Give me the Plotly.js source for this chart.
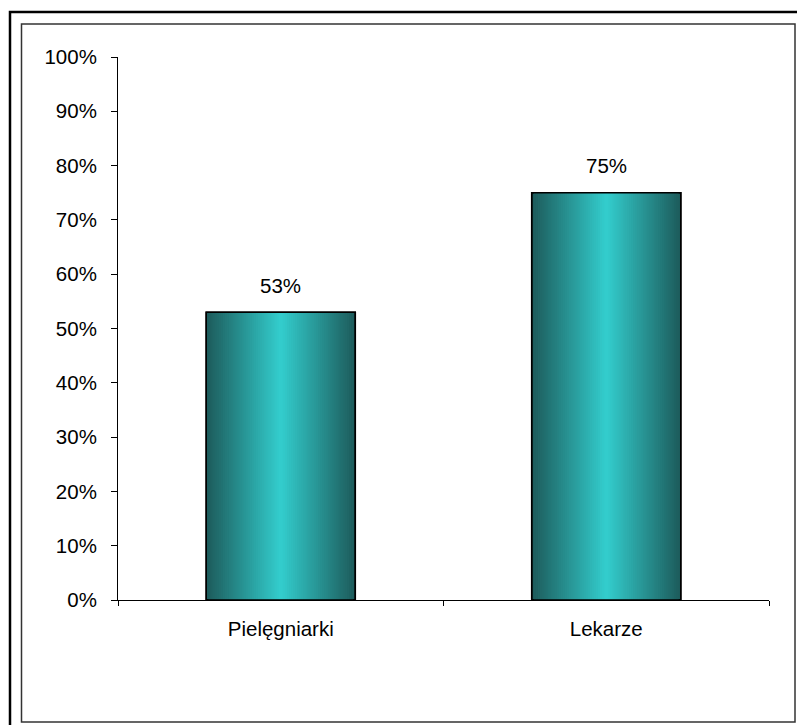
<!DOCTYPE html>
<html>
<head>
<meta charset="utf-8">
<script src="https://cdn.plot.ly/plotly-3.0.1.min.js"></script>
<style>
  html, body { margin: 0; padding: 0; background: #ffffff; }
  #chart { width: 797px; height: 725px; }
</style>
</head>
<body>
<div id="chart"></div>
<script>
// ---- data ----
var categories = ["Pielęgniarki", "Lekarze"];
var values = [0.53, 0.75];
var yTickVals = [0, 0.1, 0.2, 0.3, 0.4, 0.5, 0.6, 0.7, 0.8, 0.9, 1.0];

// ---- styling ----
var FONT = "Arial, 'Liberation Sans', sans-serif";
var FS = 20.5;
var barWidth = 0.458;
var steps = 36;
var dark = [29, 92, 92];
var light = [51, 204, 204];

function mix(t) {
  var c = [];
  for (var k = 0; k < 3; k++) c.push(Math.round(dark[k] + (light[k] - dark[k]) * t));
  return "rgb(" + c.join(",") + ")";
}

var traces = [];
for (var i = 0; i < steps; i++) {
  var t = i / (steps - 1);
  var w = barWidth * (1 - i / steps);
  traces.push({
    type: "bar",
    x: categories,
    y: values,
    width: w,
    marker: {
      color: mix(t),
      line: { width: i === 0 ? 1.5 : 0, color: "#000000" }
    },
    showlegend: false,
    hoverinfo: i === 0 ? "x+y" : "skip"
  });
}
// outline on top
traces.push({
  type: "bar",
  x: categories,
  y: values,
  width: barWidth,
  marker: { color: "rgba(0,0,0,0)", line: { width: 1.5, color: "#000000" } },
  showlegend: false,
  hoverinfo: "skip"
});

var annotations = categories.map(function (c, i) {
  return {
    x: c, y: values[i], xref: "x", yref: "y",
    text: Math.round(values[i] * 100) + "%",
    showarrow: false, yshift: 27,
    font: { family: FONT, size: FS, color: "#000000" }
  };
});

// frame geometry in paper coords (plot area: x 118..769, y 57..600)
function px(x) { return (x - 118) / 651; }
function py(y) { return (600 - y) / 543; }

var layout = {
  width: 797, height: 725,
  margin: { l: 118, r: 28, t: 57, b: 125 },
  paper_bgcolor: "#ffffff",
  plot_bgcolor: "#ffffff",
  barmode: "overlay",
  font: { family: FONT, size: FS, color: "#000000" },
  xaxis: {
    type: "category",
    showline: true, linecolor: "#000000", linewidth: 1,
    ticks: "outside", ticklen: 5, tickcolor: "#000000", tickwidth: 1,
    tickson: "boundaries",
    ticklabelstandoff: 10,
    showgrid: false, zeroline: false,
    tickfont: { family: FONT, size: FS, color: "#000000" }
  },
  yaxis: {
    range: [0, 1],
    tickvals: yTickVals,
    tickformat: ".0%",
    showline: true, linecolor: "#000000", linewidth: 1,
    ticks: "outside", ticklen: 6, tickcolor: "#000000", tickwidth: 1,
    ticklabelstandoff: 10,
    showgrid: false, zeroline: false,
    tickfont: { family: FONT, size: FS, color: "#000000" }
  },
  annotations: annotations,
  shapes: [
    { type: "rect", xref: "paper", yref: "paper",
      x0: px(10), x1: px(805), y0: py(735), y1: py(12),
      line: { color: "#000000", width: 2.5 }, fillcolor: "rgba(0,0,0,0)" },
    { type: "rect", xref: "paper", yref: "paper",
      x0: px(21.5), x1: px(795), y0: py(722), y1: py(24),
      line: { color: "#333333", width: 1.5 }, fillcolor: "rgba(0,0,0,0)" }
  ]
};

Plotly.newPlot("chart", traces, layout, { displayModeBar: false, staticPlot: true });
</script>
</body>
</html>
